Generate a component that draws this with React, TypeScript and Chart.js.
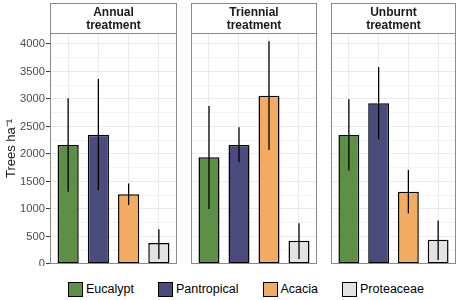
import React, { useEffect, useRef } from 'react';
import { Chart, registerables } from 'chart.js';

Chart.register(...registerables);

const categories = ['Eucalypt', 'Pantropical', 'Acacia', 'Proteaceae'];
const categoryColors = ['#5e8f47', '#4b4b7e', '#f2ab60', '#e3e3e3'];

const treatmentTitles = [
  ['Annual', 'treatment'],
  ['Triennial', 'treatment'],
  ['Unburnt', 'treatment'],
];

const annualMeans = [2165, 2350, 1270, 380];
const annualLower = [1315, 1340, 1070, 90];
const annualUpper = [3015, 3365, 1465, 630];

const triennialMeans = [1940, 2165, 3060, 425];
const triennialLower = [1000, 1850, 2075, 90];
const triennialUpper = [2875, 2485, 4050, 740];

const unburntMeans = [2345, 2925, 1315, 440];
const unburntLower = [1700, 2265, 920, 75];
const unburntUpper = [2995, 3580, 1710, 790];

const yMajorTicks = [0, 500, 1000, 1500, 2000, 2500, 3000, 3500, 4000];
const yMinorTicks = [250, 750, 1250, 1750, 2250, 2750, 3250, 3750];

const yAxisTitle = 'Trees ha\u207B\u00B9';

const FONT = '"Liberation Sans", Arial, Helvetica, sans-serif';

type PanelData = {
  title: string[];
  means: number[];
  lower: number[];
  upper: number[];
};

const panels: PanelData[] = [
  { title: treatmentTitles[0], means: annualMeans, lower: annualLower, upper: annualUpper },
  { title: treatmentTitles[1], means: triennialMeans, lower: triennialLower, upper: triennialUpper },
  { title: treatmentTitles[2], means: unburntMeans, lower: unburntLower, upper: unburntUpper },
];

const canvasLayout = [
  { left: 0, width: 178, showAxis: true },
  { left: 190, width: 128, showAxis: false },
  { left: 330, width: 127, showAxis: false },
];

const CANVAS_H = 266;

function panelPlugin(panel: PanelData) {
  return {
    id: 'panelDecor',
    afterDatasetsDraw(chart: any) {
      const { ctx, scales } = chart;
      const x = scales.x;
      const y = scales.y;
      ctx.save();
      ctx.strokeStyle = '#000';
      ctx.lineWidth = 1.3;
      panel.lower.forEach((lo, i) => {
        const px = x.getPixelForValue(i);
        ctx.beginPath();
        ctx.moveTo(px, y.getPixelForValue(lo));
        ctx.lineTo(px, y.getPixelForValue(panel.upper[i]));
        ctx.stroke();
      });
      ctx.restore();
    },
    afterDraw(chart: any) {
      const { ctx, chartArea } = chart;
      const l = Math.round(chartArea.left) + 0.5;
      const r = Math.round(chartArea.right) - 0.5;
      const t = Math.round(chartArea.top) + 0.5;
      const b = Math.round(chartArea.bottom) - 0.5;
      ctx.save();
      ctx.strokeStyle = '#8a8a8a';
      ctx.lineWidth = 1;
      ctx.fillStyle = '#ffffff';
      ctx.fillRect(l, 3.5, r - l, t - 3.5);
      ctx.strokeRect(l, 3.5, r - l, t - 3.5);
      ctx.strokeRect(l, t, r - l, b - t);
      ctx.fillStyle = '#1a1a1a';
      ctx.font = 'bold 12px ' + FONT;
      ctx.textAlign = 'center';
      ctx.textBaseline = 'alphabetic';
      const cx = (chartArea.left + chartArea.right) / 2;
      ctx.fillText(panel.title[0], cx, 16);
      ctx.fillText(panel.title[1], cx, 28.5);
      ctx.restore();
    },
  };
}

function makeConfig(panel: PanelData, showAxis: boolean): any {
  const isMajor = (v: number) => yMajorTicks.includes(v);
  return {
    type: 'bar',
    data: {
      datasets: [
        {
          data: panel.means.map((v, i) => ({ x: i, y: v })),
          backgroundColor: categoryColors,
          borderColor: '#000',
          borderWidth: 1.5,
          borderSkipped: false,
          barPercentage: 0.7,
          categoryPercentage: 1,
        },
      ],
    },
    options: {
      responsive: false,
      animation: false,
      events: [],
      layout: { padding: { top: 33, bottom: 2, left: showAxis ? 0 : 1, right: 1 } },
      plugins: {
        legend: { display: false },
        tooltip: { enabled: false },
        title: { display: false },
      },
      scales: {
        x: {
          type: 'linear',
          min: -0.6,
          max: 3.6,
          offset: false,
          afterBuildTicks: (s: any) => {
            s.ticks = categories.map((_, i) => ({ value: i }));
          },
          afterFit: (s: any) => {
            s.height = 0;
            s.paddingLeft = 0;
            s.paddingRight = 0;
          },
          ticks: { display: false },
          grid: { color: '#ebebeb', lineWidth: 1.1, drawTicks: false, offset: false },
          border: { display: false },
        },
        y: {
          type: 'linear',
          min: 0,
          max: 4200,
          afterBuildTicks: (s: any) => {
            s.ticks = [...yMajorTicks, ...yMinorTicks]
              .sort((a, b) => a - b)
              .map((v) => ({ value: v }));
          },
          afterFit: (s: any) => {
            s.width = showAxis ? 50 : 0;
            s.paddingTop = 0;
            s.paddingBottom = 0;
          },
          ticks: {
            display: showAxis,
            autoSkip: false,
            padding: 1,
            color: '#4d4d4d',
            font: { family: FONT, size: 11.2 },
            callback: (v: number) => (isMajor(v) ? String(v) : ''),
          },
          grid: {
            color: '#ebebeb',
            lineWidth: (c: any) => (c.tick && isMajor(c.tick.value) ? 1.1 : 0.55),
            drawTicks: showAxis,
            tickLength: 4,
            tickWidth: 1,
            tickColor: (c: any) => (c.tick && isMajor(c.tick.value) ? '#333333' : 'rgba(0,0,0,0)'),
          },
          border: { display: false },
          title: {
            display: showAxis,
            text: yAxisTitle,
            color: '#1a1a1a',
            font: { family: FONT, size: 13 },
            padding: { top: 3.5, bottom: 0 },
          },
        },
      },
    },
    plugins: [panelPlugin(panel)],
  };
}

export default function App() {
  const r0 = useRef<HTMLCanvasElement>(null);
  const r1 = useRef<HTMLCanvasElement>(null);
  const r2 = useRef<HTMLCanvasElement>(null);
  const refs = [r0, r1, r2];

  useEffect(() => {
    const charts = refs.map((r, i) =>
      new Chart(r.current as HTMLCanvasElement, makeConfig(panels[i], canvasLayout[i].showAxis))
    );
    return () => charts.forEach((c) => c.destroy());
  }, []);

  return (
    <div
      style={{
        position: 'absolute',
        left: 0,
        top: 0,
        width: 461,
        height: 300,
        background: '#fff',
        overflow: 'hidden',
        fontFamily: FONT,
      }}
    >
      {canvasLayout.map((c, i) => (
        <canvas
          key={i}
          ref={refs[i]}
          width={c.width}
          height={CANVAS_H}
          style={{ position: 'absolute', left: c.left, top: 0, width: c.width, height: CANVAS_H }}
        />
      ))}
      <div
        style={{
          position: 'absolute',
          left: 68,
          top: 282,
          height: 15,
          display: 'flex',
          alignItems: 'center',
          gap: 24,
          whiteSpace: 'nowrap',
        }}
      >
        {categories.map((name, i) => (
          <div key={name} style={{ display: 'flex', alignItems: 'center' }}>
            <div
              style={{
                width: 15,
                height: 15,
                boxSizing: 'border-box',
                border: '1.5px solid #000',
                background: categoryColors[i],
              }}
            />
            <span style={{ marginLeft: 3, fontSize: 12.5, color: '#000', lineHeight: '15px' }}>{name}</span>
          </div>
        ))}
      </div>
    </div>
  );
}
